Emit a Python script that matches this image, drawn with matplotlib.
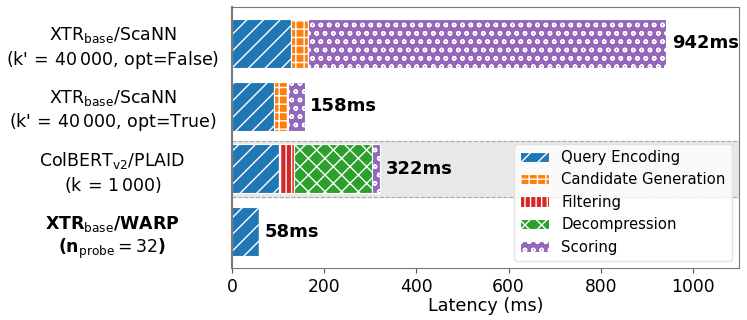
import matplotlib
matplotlib.use("Agg")
import matplotlib.pyplot as plt
import numpy as np

plt.rcParams['hatch.linewidth'] = 1.0

systems = [
    r"XTR$_{\mathrm{base}}$/ScaNN" + "\n" + r"(k'$\,=\,$40$\,$000, opt=False)",
    r"XTR$_{\mathrm{base}}$/ScaNN" + "\n" + r"(k'$\,=\,$40$\,$000, opt=True)",
    r"ColBERT$_{\mathrm{v2}}$/PLAID" + "\n" + r"(k$\,=\,$1$\,$000)",
    r"$\mathbf{XTR}_{\mathrm{base}}$/WARP" + "\n" + r"($\mathbf{n}_{\mathrm{probe}}=32$)",
]
stages = ["Query Encoding", "Candidate Generation", "Filtering", "Decompression", "Scoring"]
query_encoding = [128, 91, 101, 58]
candidate_generation = [36, 31, 0, 0]
filtering = [0, 0, 34, 0]
decompression = [0, 0, 168, 0]
scoring = [778, 36, 19, 0]
totals = [942, 158, 322, 58]
total_labels = ["942ms", "158ms", "322ms", "58ms"]

colors = ["#1f77b4", "#ff7f0e", "#d62728", "#2ca02c", "#9467bd"]
hatches = ["//", "++", "|||", "xx", "oo"]

fig = plt.figure(figsize=(7.47, 3.2), dpi=100)
ax = fig.add_axes([0.3106, 0.1625, 0.6787, 0.8155])

y = np.arange(len(systems))
ax.axhspan(2 - 0.445, 2 + 0.445, color="#e8e8e8", zorder=0)
for yy in (2 - 0.445, 2 + 0.445):
    ax.axhline(yy, color="#aaaaaa", linestyle="--", linewidth=0.8, zorder=0.5)

series = [query_encoding, candidate_generation, filtering, decompression, scoring]
left = np.zeros(len(systems))
for name, vals, c, h in zip(stages, series, colors, hatches):
    vals = np.array(vals, dtype=float)
    ax.barh(y, vals, left=left, height=0.78, color=c, edgecolor="white",
            hatch=h, linewidth=0.8, label=name, zorder=2)
    left += vals

for yy, t, lab in zip(y, totals, total_labels):
    ax.text(t + 12, yy, lab, va="center", ha="left", fontsize=13,
            fontweight="bold", zorder=3)

ax.set_xlim(0, 1100)
ax.set_ylim(3.58, -0.58)
ax.set_yticks(y)
ax.set_yticklabels(systems, fontsize=12.5, ha="center")
ax.tick_params(axis="y", length=0, pad=86)
ax.get_yticklabels()[3].set_fontweight("bold")
ax.set_xticks([0, 200, 400, 600, 800, 1000])
ax.tick_params(axis="x", labelsize=12.3, colors="#555555", labelcolor="black")
ax.set_xlabel("Latency (ms)", fontsize=12.7, labelpad=1)
for s in ax.spines.values():
    s.set_color("#777777")
ax.spines["left"].set_linewidth(1.5)

leg = ax.legend(loc="lower right", fontsize=10.7, frameon=True,
                handlelength=2.0, borderaxespad=0.5)
leg.get_frame().set_edgecolor("#dddddd")

fig.savefig("out.png", dpi=100)
